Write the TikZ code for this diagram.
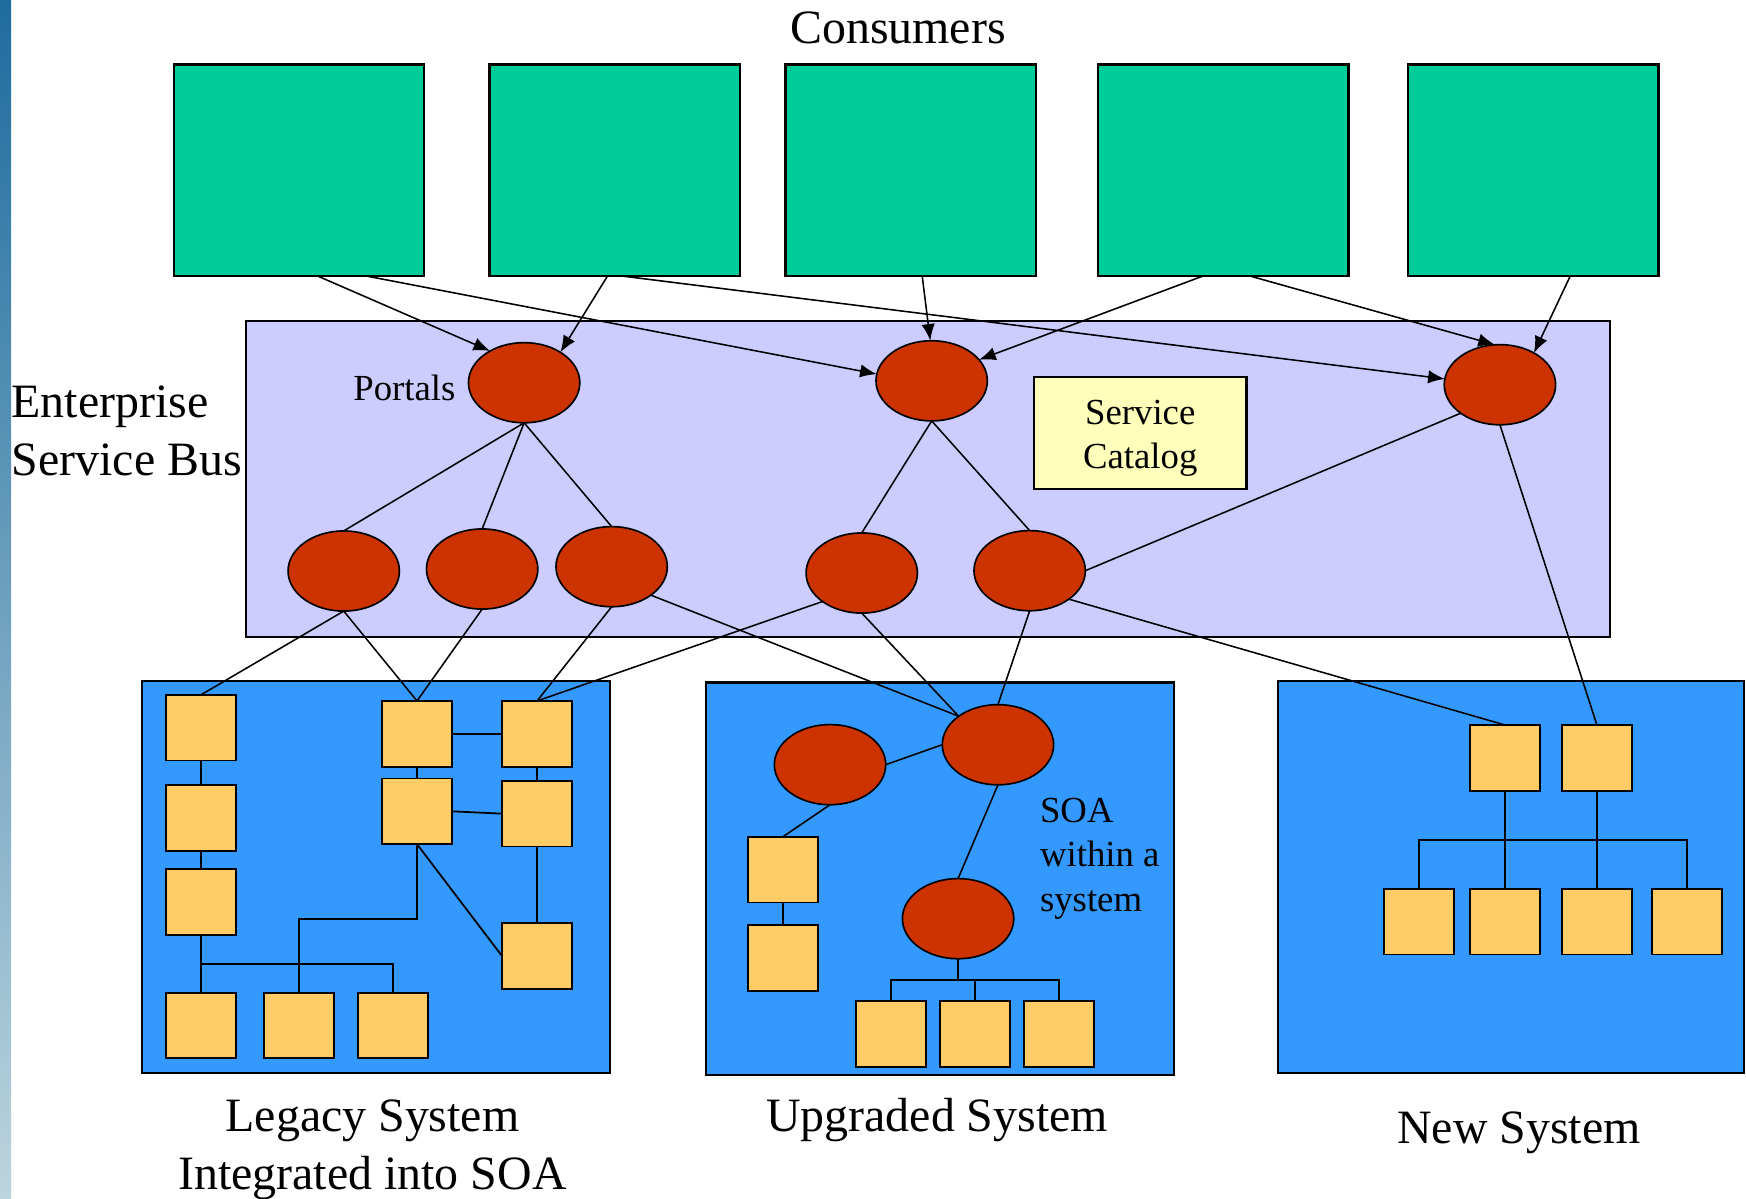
\documentclass[tikz,border=0pt]{standalone}
\usepackage{fontspec}
\setmainfont{Liberation Serif}
\usetikzlibrary{arrows.meta,shapes.geometric,calc}
\definecolor{consgreen}{HTML}{00CC99}
\definecolor{esbviolet}{HTML}{CCCCFF}
\definecolor{sysblue}{HTML}{3399FF}
\definecolor{svcred}{HTML}{CC3300}
\definecolor{compyellow}{HTML}{FFCC66}
\definecolor{catyellow}{HTML}{FFFFBB}
\definecolor{stripdark}{HTML}{1E6C9E}
\definecolor{stripmid}{HTML}{4F8FB0}
\definecolor{striplight}{HTML}{BCD4DE}
\begin{document}
\begin{tikzpicture}[x=1pt,y=-1pt,
  every node/.style={inner sep=0pt,outer sep=0pt},
  box/.style={draw=black,line width=2pt},
  consumer/.style={box,fill=consgreen,minimum width=225pt,minimum height=190pt},
  sysbox/.style={box,fill=sysblue},
  svc/.style={ellipse,draw=black,line width=1.5pt,fill=svcred,minimum width=100pt,minimum height=72pt},
  comp/.style={draw=black,line width=1.7pt,fill=compyellow,minimum width=63pt,minimum height=59pt},
  link/.style={draw=black,line width=1.4pt},
  wire/.style={draw=black,line width=1.6pt},
  arr/.style={link,-{Latex[length=15pt,width=12pt]}},
  big/.style={font=\fontsize{43}{52}\selectfont},
  small/.style={font=\fontsize{33}{40}\selectfont}
]
\useasboundingbox (0,0) rectangle (1568,1076);
\fill[white] (0,0) rectangle (1568,1076);
\shade[top color=stripdark,middle color=stripmid,bottom color=striplight] (0,0) rectangle (10,1076);

% consumers
\node[big,anchor=base] (constitle) at (806.5,39) {Consumers};
\node[consumer] (c1) at (268.5,153) {};
\node[consumer] (c2) at (552,153) {};
\node[consumer] (c3) at (818,153) {};
\node[consumer] (c4) at (1098.5,153) {};
\node[consumer] (c5) at (1377,153) {};

% enterprise service bus
\node[box,fill=esbviolet,minimum width=1225pt,minimum height=284pt] (esb) at (833.5,430) {};
\node[big,anchor=base west] (esbl1) at (10.5,375) {Enterprise};
\node[big,anchor=base west] (esbl2) at (10.5,427) {Service Bus};
\node[box,fill=catyellow,minimum width=191pt,minimum height=100.6pt] (cat) at (1024,388.6) {};
\node[small,anchor=base] (catl1) at (1024,381) {Service};
\node[small,anchor=base] (catl2) at (1024,421) {Catalog};
\node[small,anchor=base east] (portals) at (409,360) {Portals};

% systems
\node[sysbox,minimum width=420.6pt,minimum height=352pt] (legacy) at (337.5,787.3) {};
\node[sysbox,minimum width=420.3pt,minimum height=352.4pt] (upgraded) at (844.2,789.2) {};
\node[sysbox,minimum width=419pt,minimum height=352pt] (newsys) at (1356.9,787.3) {};

% ESB services
\node[svc] (p1) at (470.7,343.7) {};
\node[svc] (p2) at (836.7,342) {};
\node[svc] (p3) at (1347,345.5) {};
\node[svc] (e1) at (308.7,512.8) {};
\node[svc] (e2) at (433,511) {};
\node[svc] (e3) at (549.3,508.9) {};
\node[svc] (e4) at (773.9,514.6) {};
\node[svc] (e5) at (924.7,512.5) {};

% legacy components
\node[comp] (l1) at (180.5,653.5) {};
\node[comp] (l2) at (180.5,734.6) {};
\node[comp] (l3) at (180.5,810) {};
\node[comp] (l4) at (180.5,921) {};
\node[comp] (l5) at (268.4,921) {};
\node[comp] (l6) at (353,921) {};
\node[comp] (la1) at (374.5,659) {};
\node[comp] (la2) at (374.5,728.6) {};
\node[comp] (lb1) at (482.3,659) {};
\node[comp] (lb2) at (482.3,730.7) {};
\node[comp] (lb3) at (482.3,858.5) {};

% upgraded system
\node[svc] (u1) at (896.2,668.8) {};
\node[svc] (u2) at (745.4,686.7) {};
\node[svc] (u3) at (860.4,825) {};
\node[comp] (us1) at (703,781) {};
\node[comp] (us2) at (703,860.2) {};
\node[comp] (ub1) at (800,928.4) {};
\node[comp] (ub2) at (875.6,928.4) {};
\node[comp] (ub3) at (951,928.4) {};
\node[small,anchor=base west] (soa1) at (934,738.8) {SOA};
\node[small,anchor=base west] (soa2) at (934,778) {within a};
\node[small,anchor=base west] (soa3) at (934,818.7) {system};

% new system
\node[comp] (ns1) at (1351.6,680.6) {};
\node[comp] (ns2) at (1434.1,680.6) {};
\node[comp] (nb1) at (1274.2,827.7) {};
\node[comp] (nb2) at (1351.6,827.7) {};
\node[comp] (nb3) at (1434.1,827.7) {};
\node[comp] (nb4) at (1515,827.7) {};

% captions
\node[big,anchor=base] (cap1a) at (334.5,1016) {Legacy System};
\node[big,anchor=base] (cap1b) at (334.5,1068) {Integrated into SOA};
\node[big,anchor=base] (cap2) at (841.5,1016) {Upgraded System};
\node[big,anchor=base] (cap3) at (1364,1027) {New System};

% consumer arrows
\draw[arr] ([xshift=129.5pt]c1.south west) -- (p1.137);
\draw[arr] ([xshift=173.6pt]c1.south west) -- (p2.173);
\draw[arr] ([xshift=106pt]c2.south west) -- (p1.40);
\draw[arr] ([xshift=120pt]c2.south west) -- (p3.174);
\draw[arr] ([xshift=122.7pt]c3.south west) -- (p2.92);
\draw[arr] ([xshift=94pt]c4.south west) -- (p2.24);
\draw[arr] ([xshift=137pt]c4.south west) -- (p3.97);
\draw[arr] ([xshift=145.6pt]c5.south west) -- (p3.43);

% ESB internal links
\draw[link] (p1.south) -- (e1.north);
\draw[link] (p1.south) -- (e2.north);
\draw[link] (p1.south) -- (e3.north);
\draw[link] (p2.south) -- (e4.north);
\draw[link] (p2.south) -- (e5.north);
\draw[link] (p3.216) -- (e5.east);

% ESB to systems
\draw[link] (p3.south) -- (ns2.north);
\draw[link] (e5.324) -- (ns1.north);
\draw[link] (e1.south) -- (l1.north);
\draw[link] (e1.south) -- (la1.north);
\draw[link] (e2.south) -- (la1.north);
\draw[link] (e3.south) -- (lb1.north);
\draw[link] (e4.216) -- (lb1.north);
\draw[link] (e3.324) -- (u1.144);
\draw[link] (e4.south) -- (u1.144);
\draw[link] (e5.south) -- (u1.north);

% legacy wiring
\draw[wire] (l1.south) -- (l2.north);
\draw[wire] (l2.south) -- (l3.north);
\draw[wire] (l3.south) -- (l4.north);
\coordinate (lbus) at (180.5,865.7);
\draw[wire] (lbus) -| (l6.north);
\coordinate (lbend) at (268.4,825);
\draw[wire] (la2.south) |- (lbend) -- (l5.north);
\draw[wire] (la1.east) -- (lb1.west);
\draw[wire] (la1.south) -- (la2.north);
\draw[wire] (lb1.south) -- (lb2.north);
\draw[wire] (la2.east) -- (lb2.west);
\draw[wire] (lb2.south) -- (lb3.north);
\draw[wire] (la2.south) -- (lb3.west);

% upgraded wiring
\draw[link] (u2.east) -- (u1.west);
\draw[link] (u2.south) -- (us1.north);
\draw[link] (u1.south) -- (u3.north);
\draw[wire] (us1.south) -- (us2.north);
\coordinate (ubus) at (860.4,880);
\draw[wire] (u3.south) -- (ubus);
\draw[wire] (ub1.north) |- (ubus) -| (ub3.north);
\draw[wire] (ub2.north) -- (ub2.north |- ubus);

% new system wiring
\draw[wire] (ns1.south) -- (nb2.north);
\draw[wire] (ns2.south) -- (nb3.north);
\coordinate (nbus) at (1274.2,754.4);
\draw[wire] (nb1.north) -- (nbus) -| (nb4.north);
\end{tikzpicture}
\end{document}
